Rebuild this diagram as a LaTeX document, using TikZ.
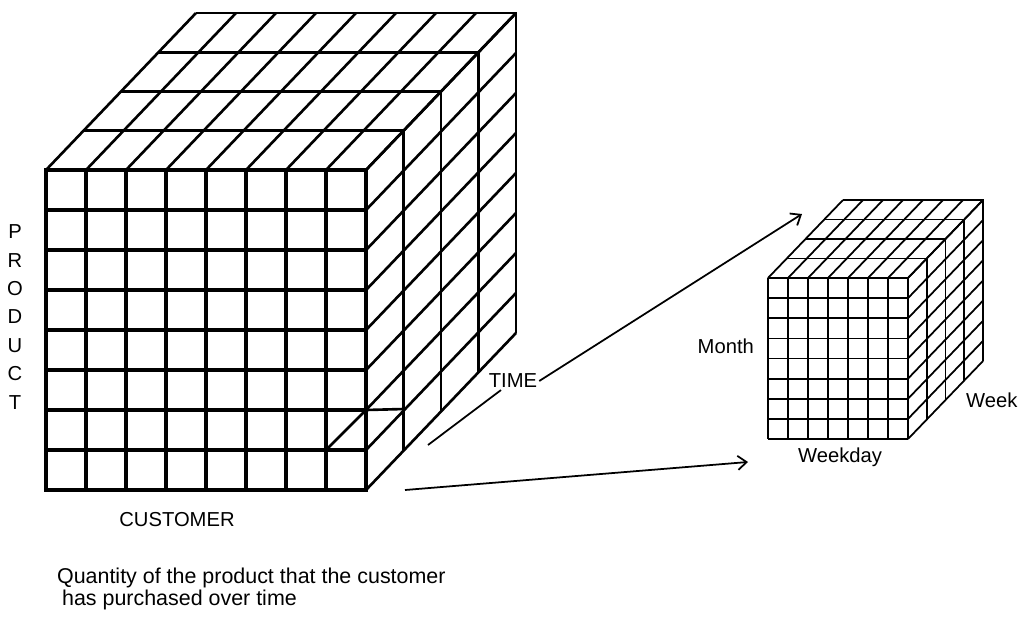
\documentclass[tikz,border=0pt]{standalone}
\usepackage{fontspec}
\setmainfont{Liberation Sans}
\usetikzlibrary{arrows.meta}

\begin{document}
\begin{tikzpicture}[x=0.02cm, y=-0.02cm,
    bigfront/.style={line width=2.3pt, line cap=rect},
    bigside/.style={line width=1.5pt},
    smallgrid/.style={line width=1pt},
    pointer/.style={line width=1pt, -{Straight Barb[length=5pt,width=8pt]}},
    lbl/.style={font=\fontsize{11.5}{14}\selectfont, inner sep=1pt}]
    \useasboundingbox (0,0) rectangle (1021,619);

    % Big cube: top face
    \foreach \i in {0,...,8}
        \draw[bigside] (46+40*\i,170) -- ++(150,-157);
    \foreach \k in {1,...,4}
        \draw[bigside] (46+37.5*\k,170-39.25*\k) -- ++(320,0) -- ++(0,320);

    % Big cube: right face (time)
    \foreach \j in {0,...,8}
        \draw[bigside] (366,170+40*\j) -- ++(150,-157);
    \draw[bigside] (326,450) -- (366,410) -- (404,409);

    % Big cube: front face (product x customer)
    \foreach \i in {0,...,8}
        \draw[bigfront] (46+40*\i,170) -- ++(0,320);
    \foreach \j in {0,...,8}
        \draw[bigfront] (46,170+40*\j) -- ++(320,0);

    % Small cube: top and right faces
    \foreach \i in {0,...,7}
        \draw[smallgrid] (768+20*\i,278) -- ++(75,-78);
    \foreach \k in {1,...,4}
        \draw[smallgrid] (768+18.75*\k,278-19.5*\k) -- ++(140,0) -- ++(0,161);
    \foreach \j in {0,...,8}
        \draw[smallgrid] (908,278+20.125*\j) -- ++(75,-78);

    % Small cube: front face
    \foreach \i in {0,...,7}
        \draw[smallgrid] (768+20*\i,278) -- ++(0,161);
    \foreach \j in {0,...,8}
        \draw[smallgrid] (768,278+20.125*\j) -- ++(140,0);

    % Labels
    \node[lbl, align=center, font=\fontsize{11.5}{16.2}\selectfont] (product) at (15,317) {P\\R\\O\\D\\U\\C\\T};
    \node[lbl] (customer) at (177,520) {CUSTOMER};
    \node[lbl] (time) at (513,381) {TIME};
    \node[lbl, anchor=east] (month) at (756,346) {Month};
    \node[lbl, anchor=west] (week) at (964,400) {Week};
    \node[lbl] (weekday) at (840,457) {Weekday};
    \node[lbl, anchor=west, font=\fontsize{12.2}{14}\selectfont] (caption1) at (55,578) {Quantity of the product that the customer};
    \node[lbl, anchor=west, font=\fontsize{12.2}{14}\selectfont] (caption2) at (60,600) {has purchased over time};

    % Arrows towards the small cube
    \coordinate (timetail) at (428,445);
    \coordinate (monthtip) at (802,214);
    \coordinate (daytail) at (405,490);
    \coordinate (daytip) at (748,462);
    \draw[line width=1pt] (timetail) -- (time);
    \draw[pointer] (time.east) -- (monthtip);
    \draw[pointer] (daytail) -- (daytip);
\end{tikzpicture}
\end{document}
